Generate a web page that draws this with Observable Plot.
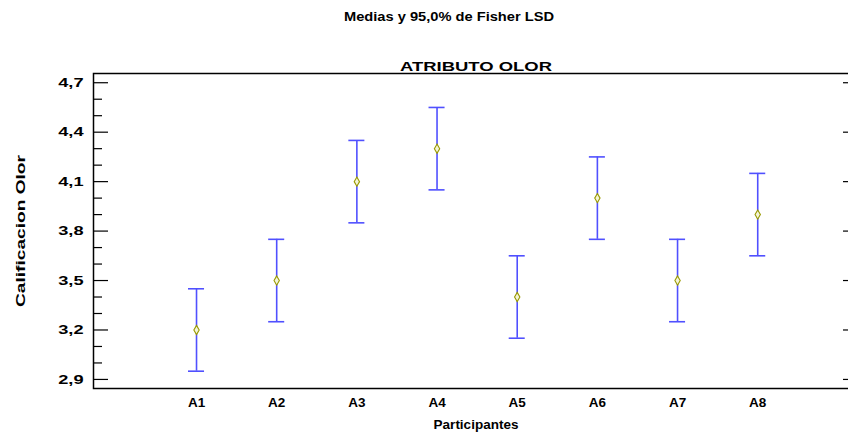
<!DOCTYPE html>
<html><head><meta charset="utf-8">
<script src="https://cdn.jsdelivr.net/npm/d3@7"></script>
<script src="https://cdn.jsdelivr.net/npm/@observablehq/plot@0.6"></script>
<style>
html,body{margin:0;padding:0;overflow:hidden;background:#fff;width:848px;height:436px}
#chart{width:858px}
</style>
</head><body><div id="chart"></div>
<script>
const participantes = ["A1","A2","A3","A4","A5","A6","A7","A8"];
const medias   = [3.2, 3.5, 4.1, 4.3, 3.4, 4.0, 3.5, 3.9];
const inferior = [2.95, 3.25, 3.85, 4.05, 3.15, 3.75, 3.25, 3.65];
const superior = [3.45, 3.75, 4.35, 4.55, 3.65, 4.25, 3.75, 4.15];
const yTicks = [2.9, 3.2, 3.5, 3.8, 4.1, 4.4, 4.7];
const yMinor = [3.0, 3.1, 3.3, 3.4, 3.6, 3.7, 3.9, 4.0, 4.2, 4.3, 4.5, 4.6];
const titulo = "Medias y 95,0% de Fisher LSD";
const subtitulo = "ATRIBUTO OLOR";
const etiquetaX = "Participantes";
const etiquetaY = "Calificacion Olor";

const data = participantes.map((p, i) => ({p, pos: i + 1, m: medias[i], lo: inferior[i], hi: superior[i]}));

const W = 858, H = 436, ML = 93, MT = 73, MB = 48, MR = 0;
const FW = W - ML - MR;
const font = "'Liberation Sans', Arial, sans-serif";
const blue = "#5050ff";
const fmt = d => d3.format(".1f")(d).replace(".", ",");

const chart = Plot.plot({
  width: W, height: H,
  marginLeft: ML, marginRight: MR, marginTop: MT, marginBottom: MB,
  style: {fontFamily: font, background: "#fff", color: "#000", overflow: "visible"},
  x: {type: "linear", domain: [-0.285, 9.257], axis: null},
  y: {domain: [2.845, 4.756], axis: null},
  marks: [
    // error bars
    Plot.ruleX(data, {x: "pos", y1: "lo", y2: "hi", stroke: blue, strokeWidth: 1.6}),
    Plot.ruleY(data, {y: "hi", x1: d => d.pos - 0.1, x2: d => d.pos + 0.1, stroke: blue, strokeWidth: 1.6}),
    Plot.ruleY(data, {y: "lo", x1: d => d.pos - 0.1, x2: d => d.pos + 0.1, stroke: blue, strokeWidth: 1.6}),
    Plot.dot(data, {x: "pos", y: "m", symbol: "diamond", r: 2.8, stroke: "#9a9a00", strokeWidth: 1.1, fill: "#f4f4d8"}),
    // y ticks (inward)
    Plot.ruleY(yTicks, {y: d => d, insetRight: FW - 15, stroke: "#000", strokeWidth: 1.2}),
    Plot.ruleY(yMinor, {y: d => d, insetRight: FW - 9, stroke: "#000", strokeWidth: 1.2}),
    Plot.ruleY(yTicks, {y: d => d, insetLeft: FW - 15, stroke: "#000", strokeWidth: 1.2}),
    Plot.axisY({ticks: yTicks, tickSize: 0, tickPadding: 10, tickFormat: fmt, fontSize: 13, fontWeight: "bold", label: null}),
    Plot.axisX({ticks: participantes.map((p, i) => i + 1), tickSize: 0, tickPadding: 9, tickFormat: d => participantes[d - 1], fontSize: 13.5, fontWeight: "bold", label: null}),
    Plot.frame({stroke: "#000", strokeWidth: 1.5}),
    // titles and labels
    Plot.text([titulo], {frameAnchor: "top", dx: -27, dy: -57, fontSize: 13, fontWeight: "bold", lineAnchor: "middle", textAnchor: "middle"}),
    Plot.text([subtitulo], {frameAnchor: "top", dy: -7, fontSize: 13, fontWeight: "bold", lineAnchor: "middle", textAnchor: "middle"}),
    Plot.text([etiquetaX], {frameAnchor: "bottom", dy: 36, fontSize: 13.5, fontWeight: "bold", lineAnchor: "middle", textAnchor: "middle"}),
    Plot.text([etiquetaY], {frameAnchor: "left", dx: -73, rotate: -90, fontSize: 13, fontWeight: "bold", lineAnchor: "middle", textAnchor: "middle"})
  ]
});
document.getElementById("chart").appendChild(chart);

// widen glyphs to match the reference's horizontally stretched lettering
const targets = {[titulo]: 210, [subtitulo]: 152, [etiquetaY]: 152};
const yLabels = new Set(yTicks.map(fmt));
chart.querySelectorAll("text").forEach(t => {
  const s = t.textContent;
  let L = null;
  if (s in targets) L = targets[s];
  else if (yLabels.has(s)) L = t.getComputedTextLength() * 1.4;
  if (L) { t.setAttribute("textLength", L); t.setAttribute("lengthAdjust", "spacingAndGlyphs"); }
});
</script>
</body></html>
